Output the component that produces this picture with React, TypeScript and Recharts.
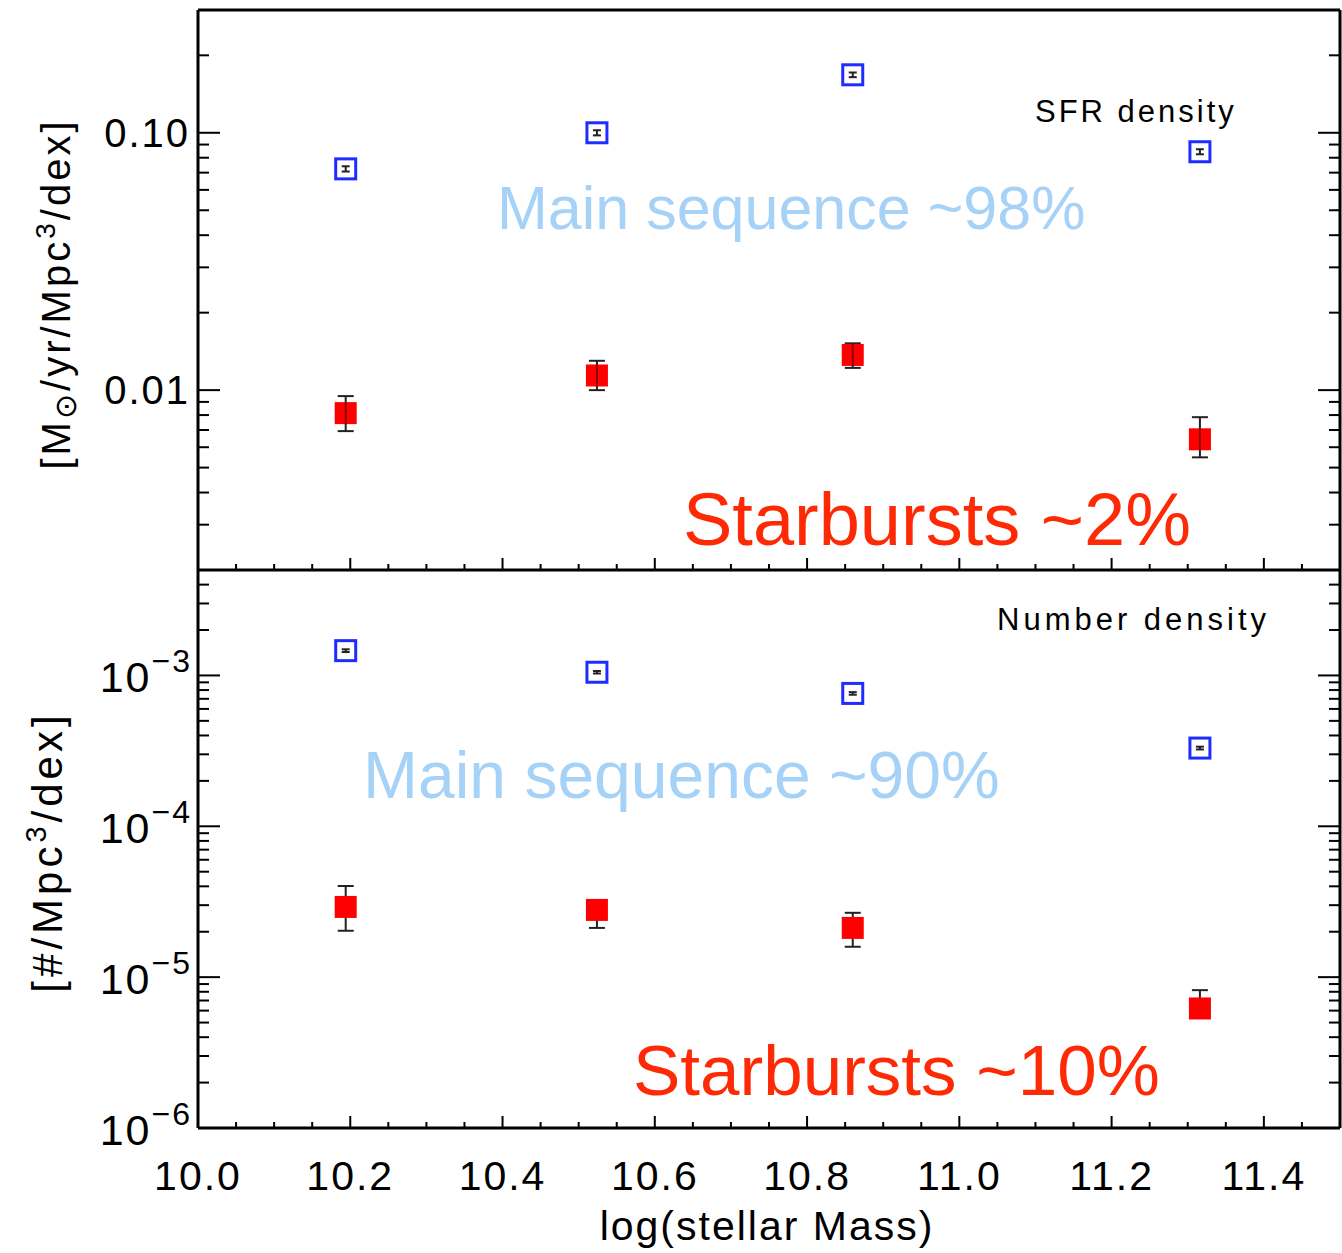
import { ErrorBar, Scatter, ScatterChart, XAxis, YAxis } from "recharts";

// stellar mass bins (log M*)
const massBins = [10.194, 10.524, 10.86, 11.316];

// SFR density [Msun/yr/Mpc^3/dex]
const sfrMainSeq = [0.0724, 0.1, 0.168, 0.0844];
const sfrMainSeqLo = [0.0707, 0.0977, 0.1645, 0.0825];
const sfrMainSeqHi = [0.0741, 0.1023, 0.1715, 0.0863];
const sfrStarburst = [0.00814, 0.0114, 0.0137, 0.00644];
const sfrStarburstLo = [0.00693, 0.01, 0.0122, 0.00548];
const sfrStarburstHi = [0.00948, 0.013, 0.0152, 0.00785];

// number density [#/Mpc^3/dex]
const numMainSeq = [1.46e-3, 1.05e-3, 7.6e-4, 3.3e-4];
const numMainSeqLo = [1.43e-3, 1.03e-3, 7.45e-4, 3.23e-4];
const numMainSeqHi = [1.49e-3, 1.07e-3, 7.75e-4, 3.37e-4];
const numStarburst = [2.92e-5, 2.79e-5, 2.12e-5, 6.2e-6];
const numStarburstLo = [2.03e-5, 2.12e-5, 1.59e-5, 5.4e-6];
const numStarburstHi = [4.02e-5, 3.2e-5, 2.67e-5, 8.2e-6];

// ticks
const xMajorTicks = [10.0, 10.2, 10.4, 10.6, 10.8, 11.0, 11.2, 11.4];
const xTickLabels = ["10.0", "10.2", "10.4", "10.6", "10.8", "11.0", "11.2", "11.4"];
const sfrMajorTicks = [0.01, 0.1];
const sfrTickLabels = ["0.01", "0.10"];
const numMajorTicks = [1e-6, 1e-5, 1e-4, 1e-3];
const numTickExps = ["\u22126", "\u22125", "\u22124", "\u22123"];

const X_DOMAIN = [10, 11.5];
const SFR_DOMAIN = [0.002, 0.3];
const NUM_DOMAIN = [1e-6, 5e-3];

const FONT = "'Liberation Sans', Arial, 'DejaVu Sans', sans-serif";

const xMinorTicks = Array.from({ length: 31 }, (_, i) => Math.round((10 + i * 0.05) * 100) / 100);

function logTicks(lo: number, hi: number) {
  const out: number[] = [];
  for (let e = Math.floor(Math.log10(lo)); e <= Math.ceil(Math.log10(hi)); e++) {
    for (let m = 1; m <= 9; m++) {
      const v = parseFloat((m * Math.pow(10, e)).toPrecision(3));
      if (v >= lo * 0.999 && v <= hi * 1.001) out.push(v);
    }
  }
  return out;
}

const sfrTicks = logTicks(SFR_DOMAIN[0], SFR_DOMAIN[1]);
const numTicks = logTicks(NUM_DOMAIN[0], NUM_DOMAIN[1]);

const findMajor = (v: number, majors: number[]) =>
  majors.findIndex((m) => Math.abs(v - m) / m < 1e-6);

const toPoints = (vals: number[], lo: number[], hi: number[]) =>
  massBins.map((m, i) => ({ mass: m, value: vals[i], err: [vals[i] - lo[i], hi[i] - vals[i]] }));

const sfrMsData = toPoints(sfrMainSeq, sfrMainSeqLo, sfrMainSeqHi);
const sfrSbData = toPoints(sfrStarburst, sfrStarburstLo, sfrStarburstHi);
const numMsData = toPoints(numMainSeq, numMainSeqLo, numMainSeqHi);
const numSbData = toPoints(numStarburst, numStarburstLo, numStarburstHi);

function XTick(props: any) {
  const { x, y, payload, side, showLabel } = props;
  const idx = findMajor(payload.value, xMajorTicks);
  const len = idx >= 0 ? 12 : 6;
  const dir = side === "bottom" ? -1 : 1;
  return (
    <g>
      <line x1={x} x2={x} y1={y} y2={y + dir * len} stroke="#000" strokeWidth={2} />
      {showLabel && idx >= 0 && (
        <text x={x} y={y + 62} textAnchor="middle" fontSize={41} fontFamily={FONT} letterSpacing={2} fill="#000">
          {xTickLabels[idx]}
        </text>
      )}
    </g>
  );
}

function YTick(props: any) {
  const { x, y, payload, side, panel } = props;
  const majors = panel === "sfr" ? sfrMajorTicks : numMajorTicks;
  const idx = findMajor(payload.value, majors);
  const len = idx >= 0 ? 22 : 11;
  const dir = side === "left" ? 1 : -1;
  let label = null;
  if (side === "left" && idx >= 0) {
    if (panel === "sfr") {
      label = (
        <text x={x - 8} y={y + 14} textAnchor="end" fontSize={40} fontFamily={FONT} letterSpacing={2} fill="#000">
          {sfrTickLabels[idx]}
        </text>
      );
    } else {
      label = (
        <text x={x - 6} y={y + 17} textAnchor="end" fontSize={43} fontFamily={FONT} letterSpacing={2} fill="#000">
          10
          <tspan dy={-20} fontSize={32}>
            {numTickExps[idx]}
          </tspan>
        </text>
      );
    }
  }
  return (
    <g>
      <line x1={x} x2={x + dir * len} y1={y} y2={y} stroke="#000" strokeWidth={2} />
      {label}
    </g>
  );
}

function BlueSquare(props: any) {
  const { cx, cy } = props;
  return <rect x={cx - 10} y={cy - 10} width={20} height={20} fill="none" stroke="#1e2cff" strokeWidth={3} />;
}

function RedSquare(props: any) {
  const { cx, cy, throughLine } = props;
  return (
    <g>
      <rect x={cx - 11} y={cy - 11} width={22} height={22} fill="#ff0000" />
      {throughLine && <line x1={cx} x2={cx} y1={cy - 11} y2={cy + 11} stroke="#8a0000" strokeWidth={2} />}
    </g>
  );
}

const axisLine = { stroke: "#000", strokeWidth: 3 };

function Panel(props: { panel: "sfr" | "num"; msData: any[]; sbData: any[]; height: number; bottomHeight: number; top: number }) {
  const { panel, msData, sbData, height, bottomHeight, top } = props;
  const domain = panel === "sfr" ? SFR_DOMAIN : NUM_DOMAIN;
  const ticks = panel === "sfr" ? sfrTicks : numTicks;
  return (
    <ScatterChart width={1342} height={height} margin={{ top, right: 1, bottom: 0, left: 0 }}>
      <XAxis
        dataKey="mass"
        type="number"
        domain={X_DOMAIN}
        ticks={xMinorTicks}
        interval={0}
        allowDataOverflow
        height={bottomHeight}
        tickLine={false}
        tickSize={0}
        tickMargin={0}
        axisLine={axisLine}
        tick={(p: any) => <XTick {...p} side="bottom" showLabel={panel === "num"} />}
      />
      <XAxis
        xAxisId="top"
        orientation="top"
        type="number"
        domain={X_DOMAIN}
        ticks={xMinorTicks}
        interval={0}
        allowDataOverflow
        height={1}
        tickLine={false}
        tickSize={0}
        tickMargin={0}
        axisLine={axisLine}
        tick={(p: any) => <XTick {...p} side="top" />}
      />
      <YAxis
        dataKey="value"
        type="number"
        scale="log"
        domain={domain}
        ticks={ticks}
        interval={0}
        allowDataOverflow
        width={198}
        tickLine={false}
        tickSize={0}
        tickMargin={0}
        axisLine={axisLine}
        tick={(p: any) => <YTick {...p} side="left" panel={panel} />}
      />
      <YAxis
        yAxisId="right"
        orientation="right"
        type="number"
        scale="log"
        domain={domain}
        ticks={ticks}
        interval={0}
        allowDataOverflow
        width={1}
        tickLine={false}
        tickSize={0}
        tickMargin={0}
        axisLine={axisLine}
        tick={(p: any) => <YTick {...p} side="right" panel={panel} />}
      />
      <Scatter data={msData} isAnimationActive={false} shape={(p: any) => <BlueSquare {...p} />}>
        <ErrorBar dataKey="err" direction="y" width={4} stroke="#222" strokeWidth={2} />
      </Scatter>
      <Scatter data={sbData} isAnimationActive={false} shape={(p: any) => <RedSquare {...p} throughLine={panel === "sfr"} />}>
        <ErrorBar dataKey="err" direction="y" width={8} stroke="#222" strokeWidth={2} />
      </Scatter>
    </ScatterChart>
  );
}

export default function App() {
  return (
    <div style={{ position: "absolute", left: 0, top: 0, width: 1342, height: 1253, background: "#fff" }}>
      {/* top panel: plot area y 10..570 */}
      <div style={{ position: "absolute", left: 0, top: 0 }}>
        <Panel panel="sfr" msData={sfrMsData} sbData={sfrSbData} height={571} bottomHeight={1} top={9} />
      </div>
      {/* bottom panel: plot area y 570..1128 */}
      <div style={{ position: "absolute", left: 0, top: 569 }}>
        <Panel panel="num" msData={numMsData} sbData={numSbData} height={684} bottomHeight={125} top={0} />
      </div>
      <svg
        width={1342}
        height={1253}
        style={{ position: "absolute", left: 0, top: 0, pointerEvents: "none" }}
        fontFamily={FONT}
      >
        <text x={1035} y={122} fontSize={31} letterSpacing={3} fill="#000">SFR density</text>
        <text x={997} y={630} fontSize={31} letterSpacing={4} fill="#000">Number density</text>
        <text x={497} y={229} fontSize={61} fill="#a6d2f7">Main sequence ~98%</text>
        <text x={683} y={545} fontSize={74} fill="#fe2a06">Starbursts ~2%</text>
        <text x={363} y={798} fontSize={66} fill="#a6d2f7">Main sequence ~90%</text>
        <text x={633} y={1095} fontSize={71} fill="#fe2a06">Starbursts ~10%</text>
        <text x={767} y={1240} fontSize={41} letterSpacing={2} textAnchor="middle" fill="#000">log(stellar  Mass)</text>
        <text x={70} y={294} fontSize={40} letterSpacing={3} textAnchor="middle" transform="rotate(-90 70 294)" fill="#000">
          [M<tspan fontFamily="'DejaVu Sans', sans-serif" fontSize={30} dy={6}>⊙</tspan>
          <tspan dy={-6}>/yr/Mpc</tspan>
          <tspan fontSize={28} dy={-15}>3</tspan>
          <tspan dy={15}>/dex]</tspan>
        </text>
        <text x={62} y={852} fontSize={42} letterSpacing={4} textAnchor="middle" transform="rotate(-90 62 852)" fill="#000">
          [#/Mpc<tspan fontSize={29} dy={-16}>3</tspan>
          <tspan dy={16}>/dex]</tspan>
        </text>
      </svg>
    </div>
  );
}
